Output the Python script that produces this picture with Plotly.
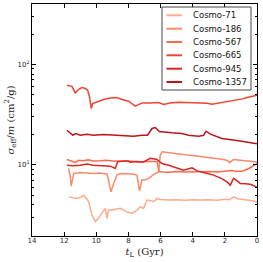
import plotly.graph_objects as go

# ---------------- data ----------------
names = ["Cosmo-71", "Cosmo-186", "Cosmo-567", "Cosmo-665", "Cosmo-945", "Cosmo-1357"]
colors = ["#fcab8f", "#fc8a6a", "#fb6a4a", "#f14432", "#d92523", "#bb151a"]

t_71 = [11.72, 11.5, 11.2, 10.95, 10.79, 10.6, 10.48, 10.27, 10.06, 9.9, 9.75, 9.55, 9.44, 9.33, 9.24, 9.0, 8.7, 8.5, 8.09, 7.78, 7.5, 7.26, 7.06, 6.85, 6.6, 6.43, 6.22, 6.02, 5.5, 5.0, 4.5, 4.0, 3.5, 3.0, 2.5, 2.0, 1.7, 1.46, 1.2, 0.9, 0.6, 0.3, 0.0]
v_71 = [4.8, 4.7, 4.63, 4.75, 5.0, 4.6, 4.3, 3.16, 2.72, 2.9, 3.16, 3.55, 3.69, 2.94, 3.55, 3.55, 3.6, 3.69, 3.41, 3.28, 3.5, 3.83, 3.69, 4.47, 4.4, 4.3, 4.63, 4.53, 4.47, 4.5, 4.45, 4.5, 4.47, 4.5, 4.45, 4.55, 4.5, 4.8, 4.6, 4.55, 4.5, 4.4, 4.3]

t_186 = [11.72, 11.62, 11.56, 11.41, 11.2, 11.0, 10.6, 10.17, 9.8, 9.45, 9.33, 9.24, 9.09, 8.92, 8.71, 8.5, 8.03, 7.75, 7.47, 7.37, 7.31, 7.16, 6.95, 6.75, 6.55, 6.33, 6.12, 6.02, 5.91, 5.6, 5.4, 5.0, 4.5, 4.0, 3.73, 3.3, 2.8, 2.3, 1.87, 1.7, 1.46, 1.2, 0.9, 0.62, 0.3, 0.0]
v_186 = [9.2, 7.6, 6.15, 8.22, 8.3, 8.4, 8.3, 8.22, 8.3, 8.22, 8.1, 7.05, 5.4, 6.53, 7.9, 8.2, 8.22, 8.1, 7.9, 6.05, 5.52, 7.05, 7.05, 7.33, 7.8, 8.2, 8.5, 12.5, 13.5, 13.3, 13.0, 12.8, 12.6, 12.4, 12.2, 12.0, 11.7, 11.4, 11.1, 10.5, 11.3, 11.2, 11.1, 11.0, 10.9, 10.7]

t_567 = [11.83, 11.65, 11.51, 11.3, 11.1, 10.8, 10.5, 10.2, 9.75, 9.4, 9.0, 8.6, 8.03, 7.6, 7.2, 6.8, 6.4, 6.22, 6.1, 5.9, 5.5, 5.0, 4.5, 4.0, 3.5, 3.0, 2.5, 2.0, 1.6, 1.3, 1.0, 0.85, 0.5, 0.25, 0.0]
v_567 = [11.3, 11.1, 10.96, 10.55, 11.1, 11.0, 11.2, 10.9, 10.96, 11.1, 10.9, 10.95, 10.9, 10.8, 10.7, 10.8, 10.7, 10.8, 8.6, 8.5, 8.45, 8.6, 8.5, 8.55, 8.5, 8.6, 8.5, 8.6, 8.8, 8.6, 8.7, 8.7, 9.2, 9.8, 10.3]

t_665 = [11.83, 11.51, 11.31, 11.1, 10.89, 10.68, 10.54, 10.42, 10.31, 10.23, 9.96, 9.55, 9.13, 8.71, 8.4, 7.99, 7.57, 7.16, 6.64, 6.12, 5.81, 5.4, 4.9, 4.36, 3.9, 3.53, 3.1, 2.8, 2.4, 2.08, 1.6, 1.24, 0.9, 0.62, 0.3, 0.0]
v_665 = [61.9, 60.4, 51.9, 56.5, 58.7, 57.4, 55.2, 47.3, 36.3, 40.7, 42.2, 44.6, 46.3, 46.7, 44.6, 42.9, 38.3, 41.3, 41.3, 41.7, 39.8, 41.3, 42.0, 41.7, 41.2, 41.7, 41.0, 40.1, 41.0, 42.2, 43.2, 44.0, 45.3, 46.7, 47.8, 49.2]

t_945 = [11.83, 11.5, 11.0, 10.58, 10.2, 9.75, 9.13, 8.82, 8.67, 8.3, 8.03, 7.88, 7.5, 7.06, 6.64, 6.22, 5.91, 5.5, 5.19, 4.57, 4.04, 3.73, 3.2, 2.7, 2.2, 1.87, 1.66, 1.46, 1.35, 1.04, 0.7, 0.42, 0.2, 0.0]
v_945 = [9.93, 9.8, 9.9, 10.2, 9.9, 9.8, 9.7, 9.2, 10.7, 10.9, 10.9, 10.6, 10.8, 10.7, 11.6, 11.3, 10.3, 9.9, 9.55, 8.85, 9.33, 8.7, 8.3, 7.9, 7.3, 6.77, 6.28, 7.33, 7.16, 6.53, 6.5, 6.4, 6.2, 5.97]

t_1357 = [11.83, 11.62, 11.45, 11.3, 10.99, 10.58, 10.17, 9.55, 8.92, 8.3, 7.68, 7.16, 6.81, 6.53, 6.33, 6.06, 5.91, 5.29, 4.67, 4.26, 3.63, 3.32, 3.17, 2.9, 2.18, 1.35, 0.73, 0.1, 0.0]
v_1357 = [22.1, 20.5, 19.7, 20.5, 19.7, 20.2, 19.7, 20.0, 19.7, 19.4, 19.3, 19.7, 19.7, 23.0, 23.5, 21.3, 21.3, 20.8, 20.5, 19.7, 19.3, 19.7, 21.6, 20.2, 18.3, 17.6, 16.9, 16.3, 16.2]

series_t = [t_71, t_186, t_567, t_665, t_945, t_1357]
series_v = [v_71, v_186, v_567, v_665, v_945, v_1357]

x_ticks = [14, 12, 10, 8, 6, 4, 2, 0]
y_ticks = [10, 100]
y_ticktext = ["10<sup>1</sup>", "10<sup>2</sup>"]
y_minor = [3, 4, 5, 6, 7, 8, 9, 20, 30, 40, 50, 60, 70, 80, 90, 200, 300]

# ---------------- figure ----------------
fig = go.Figure()
for name, col, tt, vv in zip(names, colors, series_t, series_v):
    fig.add_trace(go.Scatter(x=tt, y=vv, mode="lines", name=name,
                             line=dict(color=col, width=1.5), showlegend=False))

tickfont = dict(family="DejaVu Sans", size=7, color="#222")
fig.update_layout(
    width=263, height=262,
    margin=dict(l=32, r=6, t=4, b=26),
    paper_bgcolor="white", plot_bgcolor="white",
    xaxis=dict(range=[14, 0], tickvals=x_ticks, ticks="inside", ticklen=4, tickwidth=1,
               tickcolor="black", showline=True, linecolor="black", linewidth=1,
               mirror="allticks", showgrid=False, zeroline=False, tickfont=tickfont,
               ticklabelstandoff=-2,
               title=dict(text="<i>t</i><sub>L</sub> (Gyr)", standoff=3,
                          font=dict(family="DejaVu Serif", size=10, color="#222"))),
    yaxis=dict(type="log", range=[0.292, 2.6], tickvals=y_ticks, ticktext=y_ticktext,
               ticks="inside", ticklen=4, tickwidth=1, tickcolor="black",
               showline=True, linecolor="black", linewidth=1, mirror="allticks",
               showgrid=False, zeroline=False, tickfont=tickfont,
               minor=dict(tickmode="array", tickvals=y_minor, ticks="inside", ticklen=2,
                          tickcolor="black", showgrid=False),
               title=dict(text="<i>σ</i><sub>eff</sub>/<i>m</i> (cm<sup>2</sup>/g)", standoff=1,
                          font=dict(family="DejaVu Serif", size=10, color="#222"))),
)

# ---------------- legend (drawn in paper coordinates) ----------------
def px2x(px):
    return (px - 32) / 225.0

def py2y(py):
    return (236 - py) / 232.0

fig.add_shape(type="rect", xref="paper", yref="paper",
              x0=px2x(162), x1=px2x(251), y0=py2y(90), y1=py2y(7),
              line=dict(color="#444", width=1), fillcolor="rgba(255,255,255,0.85)")
row_py = [15.3, 28.7, 42.0, 55.3, 68.7, 82.0]
for name, col, ry in zip(names, colors, row_py):
    fig.add_shape(type="line", xref="paper", yref="paper",
                  x0=px2x(166.5), x1=px2x(182), y0=py2y(ry), y1=py2y(ry),
                  line=dict(color=col, width=2))
    fig.add_annotation(xref="paper", yref="paper", x=px2x(190.5), y=py2y(ry),
                       text=name, showarrow=False, xanchor="left", yanchor="middle",
                       font=dict(family="DejaVu Sans", size=8.5, color="#111"))

fig.write_html("out.html", config={"displayModeBar": False},
               post_script="document.body.style.margin='0';")
